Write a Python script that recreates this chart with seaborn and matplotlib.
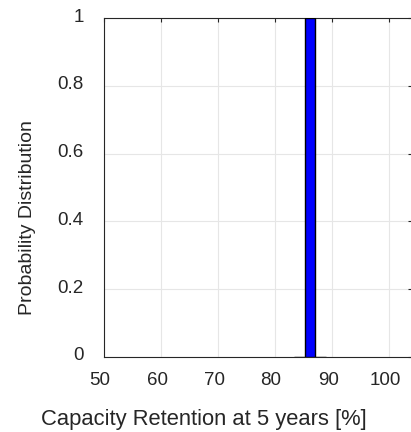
import numpy as np
import matplotlib
matplotlib.use("Agg")
import matplotlib.pyplot as plt
import matplotlib.transforms as mtransforms
import seaborn as sns

# histogram bins (capacity retention, %) and probability per bin
bin_edges = [83.3, 85.2, 87.0, 88.9]
bin_centers = [84.25, 86.1, 87.95]
probability = [0.0, 1.0, 0.0]

x_ticks = [50, 60, 70, 80, 90, 100]
y_ticks = [0, 0.2, 0.4, 0.6, 0.8, 1]
y_tick_labels = ["0", "0.2", "0.4", "0.6", "0.8", "1"]

sns.set_style("white")
plt.rcParams['font.family'] = ['Liberation Sans', 'DejaVu Sans']

W, H = 411, 432
fig = plt.figure(figsize=(W / 100, H / 100), dpi=100)
ax = fig.add_axes([104 / W, 1 - 357 / H, 308 / W, 339 / H])

sns.histplot(x=bin_centers, weights=probability, bins=bin_edges, stat="count",
             color=(0, 0, 1), alpha=1, edgecolor="black", linewidth=1.0, ax=ax, zorder=3)

ax.set_xlim(50, 104)
ax.set_ylim(0, 1)
ax.set_xticks(x_ticks)
ax.set_yticks(y_ticks)
ax.set_yticklabels(y_tick_labels)
ax.grid(True, color="#e6e6e6", linewidth=0.8, zorder=0)
ax.set_axisbelow(True)
ax.tick_params(direction="in", length=3, width=0.8, top=True, right=True,
               labelsize=13.5, colors="#262626")
ax.tick_params(axis="y", pad=14.5)
ax.tick_params(axis="x", pad=11)
for side in ["left", "bottom", "top", "right"]:
    ax.spines[side].set_visible(True)
    ax.spines[side].set_color("#262626")
    ax.spines[side].set_linewidth(0.8)

# small shifts of tick labels seen in the reference
for lab in ax.get_yticklabels():
    lab.set_transform(lab.get_transform() + mtransforms.ScaledTranslation(0, 3 / 100, fig.dpi_scale_trans))
for lab in ax.get_xticklabels():
    lab.set_transform(lab.get_transform() + mtransforms.ScaledTranslation(-4 / 100, 0, fig.dpi_scale_trans))

ax.set_xlabel("")
ax.set_ylabel("")
fig.text(203.5 / W, 7 / H, "Capacity Retention at 5 years [%]", fontsize=15.8,
         color="#262626", ha="center", va="baseline")
fig.text(27 / W, 1 - 217.5 / H, "Probability Distribution", fontsize=14,
         color="#262626", ha="center", va="center", rotation=90)

fig.savefig("out.png", dpi=100, facecolor="white")
